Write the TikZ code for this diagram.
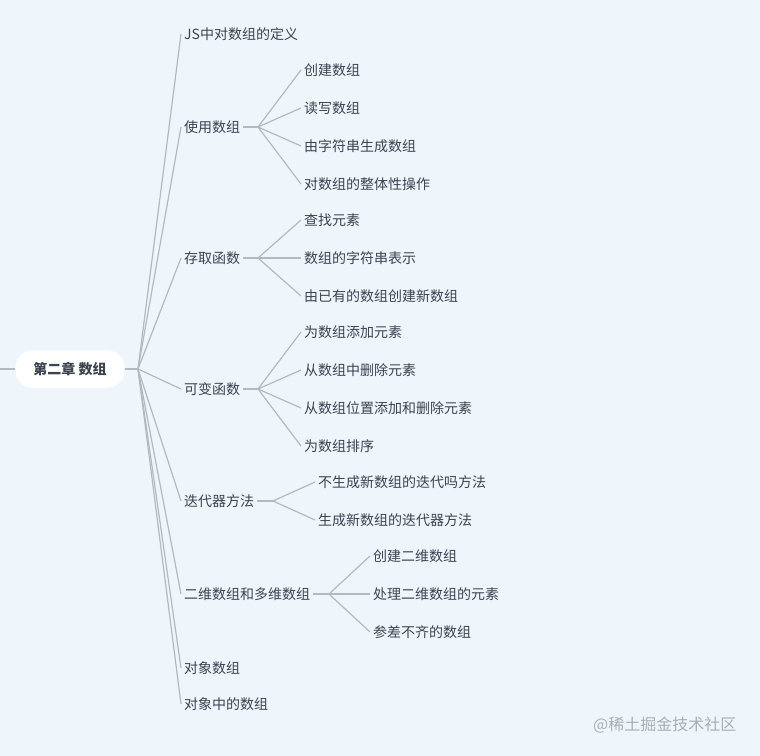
\documentclass[tikz,border=0pt]{standalone}
\usepackage{fontspec}
\setmainfont{Noto Sans CJK SC}
\usepackage{xcolor}
\usetikzlibrary{positioning}
\definecolor{bgblue}{HTML}{EFF6FB}
\definecolor{txtgray}{HTML}{3B4250}
\definecolor{linegray}{HTML}{B3B9C1}
\definecolor{markgray}{HTML}{A9AEB5}

\begin{document}
\begin{tikzpicture}[
    x=0.75pt, y=-0.75pt,
    root/.style={
      rectangle, fill=white, rounded corners=13pt,
      minimum width=82pt, minimum height=28pt,
      text=txtgray, font=\fontsize{10.5}{12}\selectfont\bfseries
    },
    topic/.style={
      anchor=west, inner sep=2.2pt, text=txtgray,
      font=\fontsize{10.5}{12}\selectfont
    },
    link/.style={draw=linegray, line width=0.9pt}
  ]
  \fill[bgblue] (0,0) rectangle (760,756);
  \useasboundingbox (0,0) rectangle (760,756);

  % root
  \node[root] (ch) at (70,369) {第二章 数组};
  \coordinate (edge) at (0,369);
  \coordinate (chfork) at (138,369);
  \draw[link] (edge) -- (ch.west);
  \draw[link] (ch.east) -- (chfork);

  % first level
  \node[topic] (def)   at (181,34)  {JS中对数组的定义};
  \node[topic] (use)   at (181,127) {使用数组};
  \node[topic] (acc)   at (181,258) {存取函数};
  \node[topic] (mut)   at (181,389) {可变函数};
  \node[topic] (iter)  at (181,501) {迭代器方法};
  \node[topic] (multi) at (181,594) {二维数组和多维数组};
  \node[topic] (obj)   at (181,668) {对象数组};
  \node[topic] (inobj) at (181,704) {对象中的数组};

  \foreach \t in {def,use,acc,mut,iter,multi,obj,inobj}
    \draw[link] (chfork) -- (\t.west);

  % second level
  \coordinate (usefork) at (258,127);
  \node[topic] (create)  at (301,70)  {创建数组};
  \node[topic] (rw)      at (301,108) {读写数组};
  \node[topic] (split)   at (301,146) {由字符串生成数组};
  \node[topic] (whole)   at (301,184) {对数组的整体性操作};
  \draw[link] (use.east) -- (usefork);
  \foreach \t in {create,rw,split,whole}
    \draw[link] (usefork) -- (\t.west);

  \coordinate (accfork) at (258,258);
  \node[topic] (find)    at (301,220) {查找元素};
  \node[topic] (tostr)   at (301,258) {数组的字符串表示};
  \node[topic] (newarr)  at (301,296) {由已有的数组创建新数组};
  \draw[link] (acc.east) -- (accfork);
  \foreach \t in {find,tostr,newarr}
    \draw[link] (accfork) -- (\t.west);

  \coordinate (mutfork) at (258,389);
  \node[topic] (add)     at (301,332) {为数组添加元素};
  \node[topic] (del)     at (301,370) {从数组中删除元素};
  \node[topic] (splice)  at (301,408) {从数组位置添加和删除元素};
  \node[topic] (sort)    at (301,446) {为数组排序};
  \draw[link] (mut.east) -- (mutfork);
  \foreach \t in {add,del,splice,sort}
    \draw[link] (mutfork) -- (\t.west);

  \coordinate (iterfork) at (273,501);
  \node[topic] (nonew)   at (315,482) {不生成新数组的迭代吗方法};
  \node[topic] (withnew) at (315,520) {生成新数组的迭代器方法};
  \draw[link] (iter.east) -- (iterfork);
  \foreach \t in {nonew,withnew}
    \draw[link] (iterfork) -- (\t.west);

  \coordinate (multifork) at (329,594);
  \node[topic] (mk2d)    at (370,556) {创建二维数组};
  \node[topic] (walk2d)  at (370,594) {处理二维数组的元素};
  \node[topic] (jagged)  at (370,632) {参差不齐的数组};
  \draw[link] (multi.east) -- (multifork);
  \foreach \t in {mk2d,walk2d,jagged}
    \draw[link] (multifork) -- (\t.west);

  % watermark
  \node[anchor=east, text=markgray, font=\fontsize{12}{14}\selectfont]
    (mark) at (741,725) {@稀土掘金技术社区};
\end{tikzpicture}
\end{document}
